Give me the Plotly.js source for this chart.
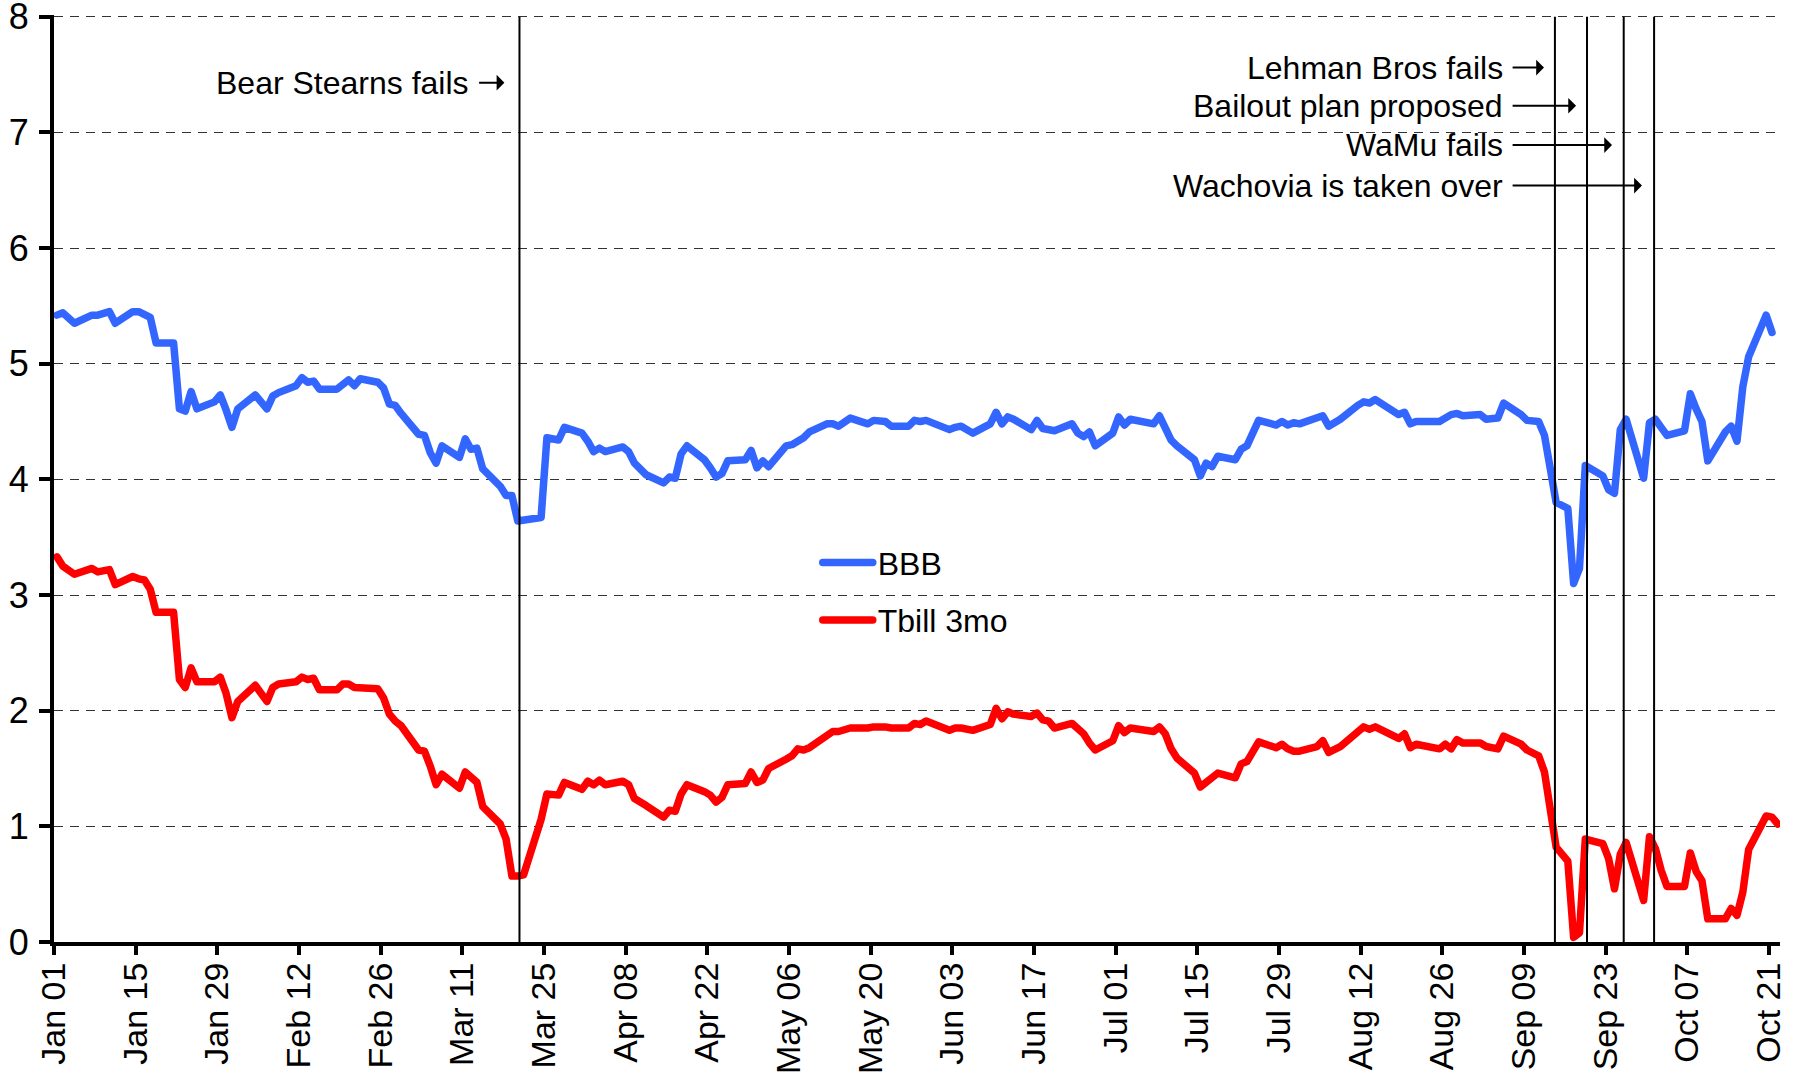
<!DOCTYPE html>
<html>
<head>
<meta charset="utf-8">
<script src="https://cdn.plot.ly/plotly-3.0.1.min.js"></script>
<style>
  html, body { margin: 0; padding: 0; background: #fff; }
  #chart { width: 1797px; height: 1072px; }
  path.js-line { stroke-linejoin: round; stroke-linecap: round; }
</style>
</head>
<body>
<div id="chart"></div>
<script>
// trading dates (2008)
const dates = [
    "2008-01-01", "2008-01-02", "2008-01-04", "2008-01-07", "2008-01-08", "2008-01-10", "2008-01-11", "2008-01-14", "2008-01-15", "2008-01-16",
    "2008-01-17", "2008-01-18", "2008-01-21", "2008-01-22", "2008-01-23", "2008-01-24", "2008-01-25", "2008-01-28", "2008-01-29", "2008-01-30",
    "2008-01-31", "2008-02-01", "2008-02-04", "2008-02-06", "2008-02-07", "2008-02-08", "2008-02-11", "2008-02-12", "2008-02-13", "2008-02-14",
    "2008-02-15", "2008-02-18", "2008-02-19", "2008-02-20", "2008-02-21", "2008-02-22", "2008-02-25", "2008-02-26", "2008-02-27", "2008-02-28",
    "2008-02-29", "2008-03-03", "2008-03-04", "2008-03-05", "2008-03-06", "2008-03-07", "2008-03-10", "2008-03-11", "2008-03-12", "2008-03-13",
    "2008-03-14", "2008-03-17", "2008-03-18", "2008-03-19", "2008-03-20", "2008-03-21", "2008-03-24", "2008-03-25", "2008-03-27", "2008-03-28",
    "2008-03-31", "2008-04-01", "2008-04-02", "2008-04-03", "2008-04-04", "2008-04-07", "2008-04-08", "2008-04-09", "2008-04-11", "2008-04-14",
    "2008-04-15", "2008-04-16", "2008-04-17", "2008-04-18", "2008-04-21", "2008-04-22", "2008-04-23", "2008-04-24", "2008-04-25", "2008-04-28",
    "2008-04-29", "2008-04-30", "2008-05-01", "2008-05-02", "2008-05-05", "2008-05-06", "2008-05-07", "2008-05-08", "2008-05-09", "2008-05-12",
    "2008-05-13", "2008-05-14", "2008-05-16", "2008-05-19", "2008-05-20", "2008-05-22", "2008-05-23", "2008-05-26", "2008-05-27", "2008-05-28",
    "2008-05-29", "2008-06-02", "2008-06-03", "2008-06-04", "2008-06-06", "2008-06-09", "2008-06-10", "2008-06-11", "2008-06-12", "2008-06-13",
    "2008-06-16", "2008-06-17", "2008-06-18", "2008-06-19", "2008-06-20", "2008-06-23", "2008-06-24", "2008-06-25", "2008-06-26", "2008-06-27",
    "2008-06-30", "2008-07-01", "2008-07-02", "2008-07-03", "2008-07-07", "2008-07-08", "2008-07-09", "2008-07-10", "2008-07-11", "2008-07-14",
    "2008-07-15", "2008-07-16", "2008-07-17", "2008-07-18", "2008-07-21", "2008-07-22", "2008-07-23", "2008-07-25", "2008-07-28", "2008-07-29",
    "2008-07-30", "2008-07-31", "2008-08-01", "2008-08-04", "2008-08-05", "2008-08-06", "2008-08-08", "2008-08-11", "2008-08-12", "2008-08-13",
    "2008-08-14", "2008-08-18", "2008-08-19", "2008-08-20", "2008-08-21", "2008-08-25", "2008-08-26", "2008-08-27", "2008-08-28", "2008-08-29",
    "2008-09-01", "2008-09-02", "2008-09-04", "2008-09-05", "2008-09-08", "2008-09-09", "2008-09-11", "2008-09-12", "2008-09-13", "2008-09-14",
    "2008-09-16", "2008-09-17", "2008-09-18", "2008-09-19", "2008-09-22", "2008-09-23", "2008-09-24", "2008-09-25", "2008-09-26", "2008-09-29",
    "2008-09-30", "2008-10-01", "2008-10-02", "2008-10-03", "2008-10-06", "2008-10-07", "2008-10-08", "2008-10-09", "2008-10-10", "2008-10-13",
    "2008-10-14", "2008-10-15", "2008-10-16", "2008-10-17", "2008-10-20", "2008-10-21", "2008-10-22"
]

// BBB yield (%)
const bbb = [
    5.42, 5.44, 5.35, 5.42, 5.42, 5.45, 5.35, 5.45, 5.45, 5.43,
    5.40, 5.18, 5.18, 4.61, 4.59, 4.76, 4.61, 4.67, 4.73, 4.60,
    4.45, 4.61, 4.73, 4.61, 4.72, 4.75, 4.81, 4.88, 4.84, 4.85,
    4.78, 4.78, 4.83, 4.86, 4.81, 4.87, 4.84, 4.79, 4.65, 4.64,
    4.57, 4.39, 4.38, 4.23, 4.14, 4.29, 4.19, 4.35, 4.26, 4.27,
    4.09, 3.94, 3.86, 3.86, 3.64, 3.645, 3.67, 4.36, 4.34, 4.45,
    4.40, 4.33, 4.24, 4.27, 4.24, 4.28, 4.24, 4.14, 4.04, 3.97,
    4.02, 4.01, 4.22, 4.29, 4.17, 4.10, 4.02, 4.05, 4.16, 4.17,
    4.25, 4.10, 4.16, 4.11, 4.29, 4.30, 4.33, 4.36, 4.41, 4.48,
    4.48, 4.46, 4.53, 4.48, 4.51, 4.50, 4.46, 4.46, 4.51, 4.50,
    4.51, 4.43, 4.45, 4.46, 4.40, 4.48, 4.58, 4.48, 4.54, 4.52,
    4.43, 4.51, 4.44, 4.43, 4.42, 4.48, 4.40, 4.37, 4.41, 4.29,
    4.40, 4.54, 4.47, 4.52, 4.48, 4.55, 4.46, 4.34, 4.29, 4.17,
    4.03, 4.14, 4.11, 4.20, 4.17, 4.26, 4.29, 4.51, 4.47, 4.50,
    4.47, 4.49, 4.48, 4.53, 4.55, 4.46, 4.52, 4.64, 4.67, 4.66,
    4.69, 4.56, 4.58, 4.48, 4.50, 4.50, 4.54, 4.56, 4.57, 4.55,
    4.56, 4.52, 4.53, 4.66, 4.56, 4.51, 4.50, 4.38, 4.09, 3.80,
    3.75, 3.10, 3.23, 4.12, 4.03, 3.91, 3.88, 4.43, 4.52, 4.01,
    4.49, 4.52, 4.45, 4.38, 4.42, 4.74, 4.61, 4.50, 4.16, 4.41,
    4.46, 4.33, 4.80, 5.06, 5.42, 5.27, null
]

// 3 month T-bill yield (%)
const tbill = [
    3.33, 3.25, 3.18, 3.23, 3.20, 3.22, 3.09, 3.16, 3.14, 3.13,
    3.05, 2.85, 2.85, 2.27, 2.20, 2.37, 2.25, 2.25, 2.29, 2.15,
    1.94, 2.08, 2.22, 2.08, 2.20, 2.23, 2.25, 2.29, 2.27, 2.28,
    2.18, 2.18, 2.23, 2.23, 2.20, 2.20, 2.19, 2.11, 1.97, 1.91,
    1.87, 1.66, 1.65, 1.52, 1.36, 1.45, 1.33, 1.47, 1.42, 1.38,
    1.17, 1.02, 0.89, 0.57, 0.57, 0.58, 1.06, 1.28, 1.27, 1.38,
    1.32, 1.39, 1.36, 1.40, 1.36, 1.39, 1.36, 1.24, 1.18, 1.08,
    1.14, 1.13, 1.28, 1.36, 1.30, 1.27, 1.21, 1.25, 1.36, 1.37,
    1.47, 1.38, 1.40, 1.50, 1.58, 1.61, 1.67, 1.66, 1.68, 1.79,
    1.82, 1.82, 1.85, 1.85, 1.86, 1.86, 1.85, 1.85, 1.89, 1.88,
    1.91, 1.83, 1.85, 1.85, 1.83, 1.88, 2.02, 1.93, 1.99, 1.97,
    1.95, 1.98, 1.92, 1.91, 1.85, 1.89, 1.84, 1.80, 1.72, 1.66,
    1.74, 1.87, 1.81, 1.85, 1.82, 1.86, 1.80, 1.67, 1.59, 1.46,
    1.34, 1.38, 1.40, 1.46, 1.42, 1.54, 1.56, 1.73, 1.68, 1.71,
    1.67, 1.65, 1.65, 1.69, 1.74, 1.64, 1.69, 1.82, 1.86, 1.84,
    1.86, 1.76, 1.80, 1.68, 1.71, 1.67, 1.71, 1.67, 1.75, 1.72,
    1.72, 1.69, 1.67, 1.78, 1.71, 1.66, 1.61, 1.47, 1.13, 0.82,
    0.70, 0.04, 0.08, 0.89, 0.85, 0.72, 0.46, 0.76, 0.86, 0.36,
    0.91, 0.81, 0.62, 0.48, 0.48, 0.77, 0.61, 0.53, 0.20, 0.20,
    0.29, 0.23, 0.43, 0.80, 1.09, 1.08, 1.02
]

// events: where the vertical line sits, and the label
const eventLines = ["2008-03-20 19:00", "2008-09-14 07:00", "2008-09-19 19:00", "2008-09-26 02:00", "2008-10-01 07:00"]
const eventLabels = ["Bear Stearns fails", "Lehman Bros fails", "Bailout plan proposed", "WaMu fails", "Wachovia is taken over"]

const FONT = "Liberation Sans, Arial, sans-serif"

// points are drawn in the middle of their day
const xs = dates.map(d => d + " 12:00")

const traces = [
    {
        x: xs, y: bbb, name: "BBB", legendgroup: "a",
        mode: "lines", type: "scatter",
        line: {color: "#3366ff", width: 7.5}
    },
    {
        x: xs, y: tbill, name: "Tbill 3mo", legendgroup: "b",
        mode: "lines", type: "scatter",
        line: {color: "#ff0000", width: 7.5}
    }
]

let shapes = eventLines.map(d => ({
    type: "line", xref: "x", yref: "y",
    x0: d, x1: d, y0: 0, y1: 8,
    line: {color: "#000", width: 2}
}))

// white boxes behind the label block and the legend
shapes.push({type: "rect", xref: "paper", yref: "y", x0: 0.642, x1: 0.846, y0: 6.37, y1: 7.76,
    fillcolor: "#fff", line: {width: 0}, layer: "between"})
shapes.push({type: "rect", xref: "paper", yref: "y", x0: 0.405, x1: 0.596, y0: 2.55, y1: 3.55,
    fillcolor: "#fff", line: {width: 0}, layer: "between"})

// arrow tips / tails and heights for the labels
const tips = ["2008-03-18 05:00", "2008-09-12 10:00", "2008-09-17 22:00", "2008-09-24 02:00", "2008-09-29 05:00"]
const tails = ["2008-03-12 12:00", "2008-09-05 16:00", "2008-09-05 16:00", "2008-09-05 16:00", "2008-09-05 16:00"]
const labelY = [7.43, 7.56, 7.23, 6.89, 6.54]

const annotations = eventLabels.map((t, i) => ({
    text: t,
    x: tips[i], y: labelY[i], xref: "x", yref: "y",
    ax: tails[i], ay: labelY[i], axref: "x", ayref: "y",
    xanchor: "right", yanchor: "middle",
    showarrow: true, arrowhead: 1, arrowsize: 1.3, arrowwidth: 2,
    arrowcolor: "#000", startstandoff: 8,
    font: {family: FONT, size: 32, color: "#000"}
}))

const layout = {
    width: 1797, height: 1072,
    margin: {l: 54, r: 17, t: 15, b: 130},
    paper_bgcolor: "#fff", plot_bgcolor: "#fff",
    font: {family: FONT, size: 32, color: "#000"},
    showlegend: true,
    legend: {
        x: 0.4425, y: 0.378, xanchor: "left", yanchor: "middle",
        bgcolor: "rgba(0,0,0,0)", borderwidth: 0,
        traceorder: "grouped", tracegroupgap: 13, itemwidth: 50,
        font: {family: FONT, size: 32, color: "#000"}
    },
    xaxis: {
        type: "date",
        range: ["2008-01-01", "2008-10-22 21:00"],
        tick0: "2008-01-01", dtick: 14 * 86400000,
        tickformat: "%b %d", tickangle: -90,
        ticks: "outside", ticklen: 9, tickwidth: 4, tickcolor: "#000",
        ticklabelstandoff: -6,
        showline: true, linewidth: 4, linecolor: "#000",
        showgrid: false, zeroline: false,
        tickfont: {family: FONT, size: 34, color: "#000"}
    },
    yaxis: {
        range: [0, 8.015], dtick: 1, tick0: 0,
        ticks: "outside", ticklen: 11, tickwidth: 4, tickcolor: "#000",
        ticklabelstandoff: 3, ticklabeloverflow: "allow",
        showline: true, linewidth: 4, linecolor: "#000",
        showgrid: true, gridcolor: "#333", gridwidth: 1, griddash: "9px,7px",
        zeroline: false,
        tickfont: {family: FONT, size: 36, color: "#000"}
    },
    shapes: shapes,
    annotations: annotations
}

Plotly.newPlot("chart", traces, layout, {displayModeBar: false, staticPlot: true})
</script>
</body>
</html>
